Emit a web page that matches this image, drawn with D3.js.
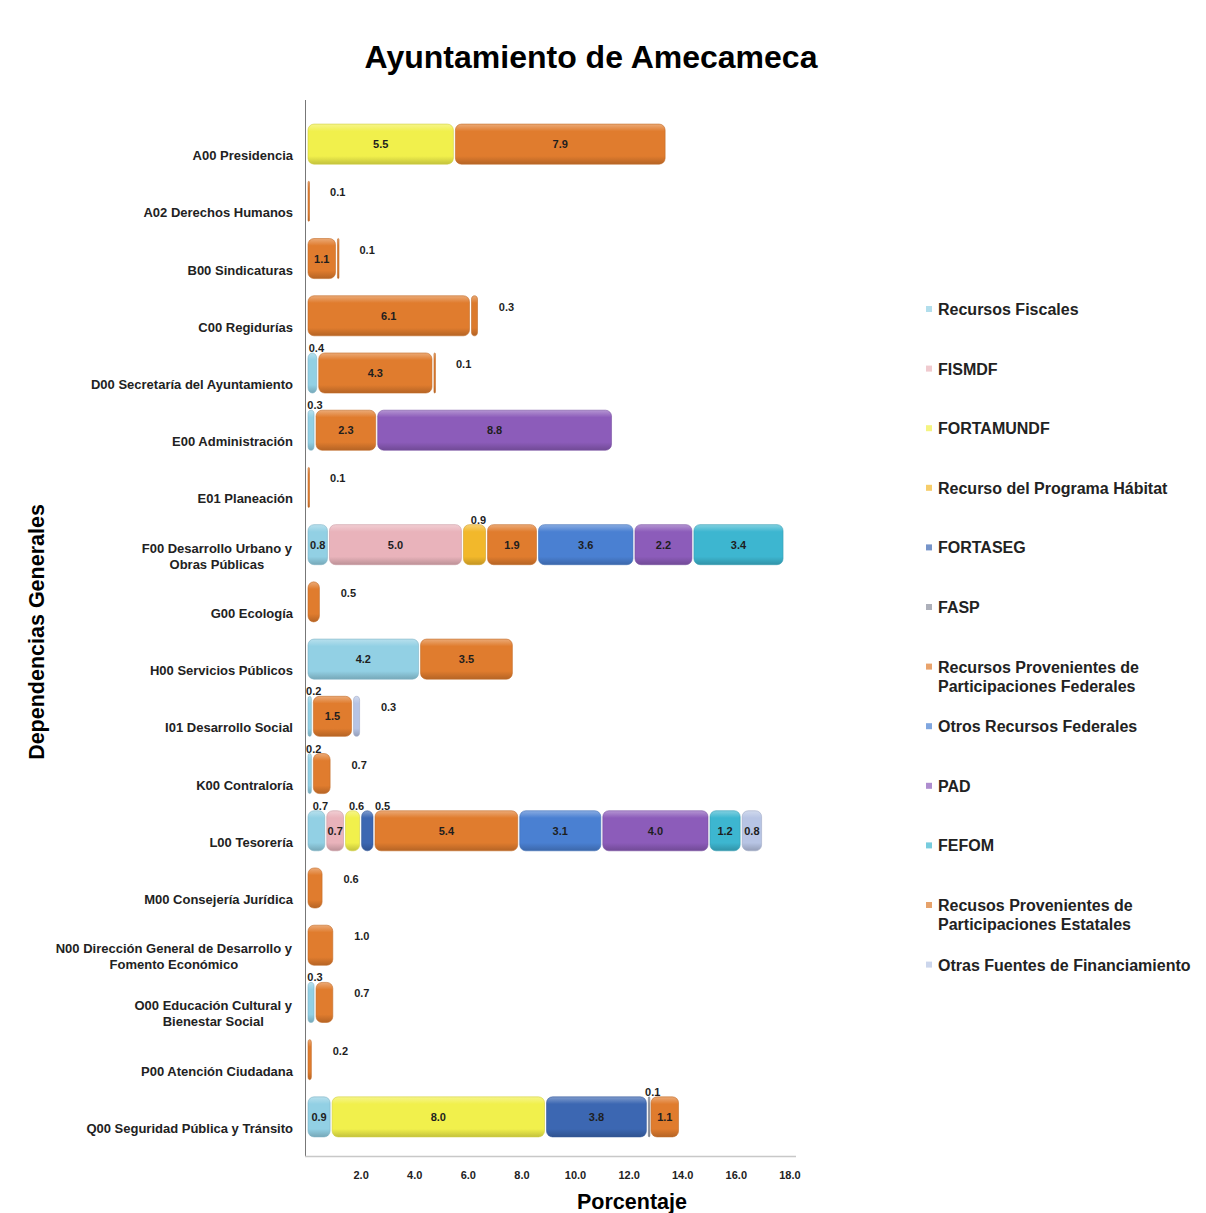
<!DOCTYPE html>
<html>
<head>
<meta charset="utf-8">
<script src="https://cdn.jsdelivr.net/npm/d3@7"></script>
<style>
  body { margin: 0; background: #fff; }
  text { font-family: "Liberation Sans", Arial, sans-serif; }
</style>
</head>
<body>
<div id="container"></div>
<script>
// chart data (percent of budget per dependency and funding source)
const categories = [
  "A00 Presidencia", "A02 Derechos Humanos", "B00 Sindicaturas", "C00 Regidurías",
  "D00 Secretaría del Ayuntamiento", "E00 Administración", "E01 Planeación",
  "F00 Desarrollo Urbano y|Obras Públicas", "G00 Ecología", "H00 Servicios Públicos",
  "I01 Desarrollo Social", "K00 Contraloría", "L00 Tesorería", "M00 Consejería Jurídica",
  "N00 Dirección General de Desarrollo y|Fomento Económico",
  "O00 Educación Cultural y|Bienestar Social", "P00 Atención Ciudadana",
  "Q00 Seguridad Pública y Tránsito"
];

const seriesNames = [
  "Recursos Fiscales", "FISMDF", "FORTAMUNDF", "Recurso del Programa Hábitat",
  "FORTASEG", "FASP", "Recursos Provenientes de|Participaciones Federales",
  "Otros Recursos Federales", "PAD", "FEFOM",
  "Recusos Provenientes de|Participaciones Estatales", "Otras Fuentes de Financiamiento"
];

//                      A00  A02  B00  C00  D00  E00  E01  F00  G00  H00  I01  K00  L00  M00  N00  O00  P00  Q00
const recursosFiscales = [0,   0,   0,   0, 0.4, 0.3,   0, 0.8,   0, 4.2, 0.2, 0.2, 0.7,   0,   0, 0.3,   0, 0.9];
const fismdf           = [0,   0,   0,   0,   0,   0,   0, 5.0,   0,   0,   0,   0, 0.7,   0,   0,   0,   0,   0];
const fortamundf       = [5.5, 0,   0,   0,   0,   0,   0,   0,   0,   0,   0,   0, 0.6,   0,   0,   0,   0, 8.0];
const habitat          = [0,   0,   0,   0,   0,   0,   0, 0.9,   0,   0,   0,   0,   0,   0,   0,   0,   0,   0];
const fortaseg         = [0,   0,   0,   0,   0,   0,   0,   0,   0,   0,   0,   0, 0.5,   0,   0,   0,   0, 3.8];
const fasp             = [0,   0,   0,   0,   0,   0,   0,   0,   0,   0,   0,   0,   0,   0,   0,   0,   0, 0.1];
const partFederales    = [7.9, 0.1, 1.1, 6.1, 4.3, 2.3, 0.1, 1.9, 0.5, 3.5, 1.5, 0.7, 5.4, 0.6, 1.0, 0.7, 0.2, 1.1];
const otrosFederales   = [0,   0,   0,   0,   0,   0,   0, 3.6,   0,   0,   0,   0, 3.1,   0,   0,   0,   0,   0];
const pad              = [0,   0,   0,   0,   0, 8.8,   0, 2.2,   0,   0,   0,   0, 4.0,   0,   0,   0,   0,   0];
const fefom            = [0,   0,   0,   0,   0,   0,   0, 3.4,   0,   0,   0,   0, 1.2,   0,   0,   0,   0,   0];
const partEstatales    = [0,   0, 0.1, 0.3, 0.1,   0,   0,   0,   0,   0,   0,   0,   0,   0,   0,   0,   0,   0];
const otrasFuentes     = [0,   0,   0,   0,   0,   0,   0,   0,   0,   0, 0.3,   0, 0.8,   0,   0,   0,   0,   0];

const xTicks = [2, 4, 6, 8, 10, 12, 14, 16, 18];

const seriesValues = [recursosFiscales, fismdf, fortamundf, habitat, fortaseg, fasp,
  partFederales, otrosFederales, pad, fefom, partEstatales, otrasFuentes];

const colors = ["#92d0e4", "#e9b3bb", "#f1f04c", "#f2b82b", "#3c67b2", "#8a8f9c",
  "#e07c2e", "#4a80d2", "#8c5cba", "#3db6d0", "#dc7a2c", "#b7c4e4"];

const width = 1206, height = 1213;
const svg = d3.select("#container").append("svg")
  .attr("width", width).attr("height", height);

const x = d3.scaleLinear().domain([0, 18]).range([307, 789.4]);
const y = d3.scaleBand().domain(d3.range(categories.length)).range([115.5, 1145.5]).paddingInner(0.3).paddingOuter(0.15);

// gradients for the rounded 3D look
const defs = svg.append("defs");
colors.forEach((c, i) => {
  const g = defs.append("linearGradient").attr("id", "g" + i)
    .attr("x1", 0).attr("y1", 0).attr("x2", 0).attr("y2", 1);
  g.append("stop").attr("offset", "0%").attr("stop-color", d3.interpolateRgb(c, "#fff")(0.35));
  g.append("stop").attr("offset", "18%").attr("stop-color", c);
  g.append("stop").attr("offset", "80%").attr("stop-color", c);
  g.append("stop").attr("offset", "100%").attr("stop-color", d3.color(c).darker(0.6));
});

// title
svg.append("text").attr("x", 591).attr("y", 68).attr("text-anchor", "middle")
  .style("font-size", "32px").style("font-weight", "bold").text("Ayuntamiento de Amecameca");

// stack rows
const rows = categories.map((c, i) => {
  let acc = 0;
  const segs = [];
  seriesValues.forEach((vals, s) => {
    const v = vals[i];
    if (v > 0) { segs.push({ row: i, s, v, x0: acc, x1: acc + v }); acc += v; }
  });
  return segs;
});

const segData = rows.flatMap(r => r.map((d, k) => ({ ...d, last: k === r.length - 1, n: r.length })));

svg.append("g").selectAll("rect").data(segData).join("rect")
  .attr("x", d => x(d.x0) + 1)
  .attr("y", d => y(d.row))
  .attr("width", d => Math.max(1.5, x(d.x1) - x(d.x0) - 2))
  .attr("height", y.bandwidth())
  .attr("rx", d => Math.min(6, (x(d.x1) - x(d.x0)) / 2))
  .attr("fill", d => `url(#g${d.s})`)
  .attr("stroke", d => d3.color(colors[d.s]).darker(0.4))
  .attr("stroke-width", 0.6);

// where Excel put each data label
function isOutside(d) { return d.last && d.n <= 3 && d.v < 1.05; }
function isAbove(d) {
  if (isOutside(d)) return false;
  if (d.v < 0.65) return true;
  if (d.s === 0 && d.v <= 0.7) return true;
  if (d.s === 3) return true;
  return false;
}

// label positions, nudging labels above the bar so they do not collide
const lastAbove = {};
segData.forEach(d => {
  const c = y(d.row) + y.bandwidth() / 2;
  if (isOutside(d)) { d.lx = x(d.x1) + 28; d.ly = c - 5; }
  else if (isAbove(d)) {
    let lx = (x(d.x0) + x(d.x1)) / 2 + 4;
    if (lastAbove[d.row] !== undefined && lx - lastAbove[d.row] < 26) lx = lastAbove[d.row] + 26;
    lastAbove[d.row] = lx;
    d.lx = lx; d.ly = y(d.row) - 1;
  } else { d.lx = (x(d.x0) + x(d.x1)) / 2; d.ly = c + 4; }
});

svg.append("g").selectAll("text").data(segData).join("text")
  .attr("text-anchor", "middle")
  .style("font-size", "11px").style("font-weight", "bold").attr("fill", "#1e1e1e")
  .attr("x", d => d.lx)
  .attr("y", d => d.ly)
  .text(d => d.v.toFixed(1));

// y axis line and category labels
svg.append("line").attr("x1", 305.5).attr("x2", 305.5).attr("y1", 100).attr("y2", 1157)
  .attr("stroke", "#777").attr("stroke-width", 1);

const catG = svg.append("g");
categories.forEach((c, i) => {
  const lines = c.split("|");
  const cy = y(i) + y.bandwidth() / 2;
  if (lines.length === 1) {
    catG.append("text").attr("x", 293).attr("y", cy + 16).attr("text-anchor", "end")
      .style("font-size", "13px").style("font-weight", "bold").attr("fill", "#222").text(c);
  } else {
    const t1 = catG.append("text").attr("x", 292).attr("y", cy + 8).attr("text-anchor", "end")
      .style("font-size", "13px").style("font-weight", "bold").attr("fill", "#222").text(lines[0]);
    const w = t1.node().getComputedTextLength();
    catG.append("text").attr("x", 292 - w / 2).attr("y", cy + 24).attr("text-anchor", "middle")
      .style("font-size", "13px").style("font-weight", "bold").attr("fill", "#222").text(lines[1]);
  }
});

// x axis
svg.append("line").attr("x1", 305).attr("x2", 796).attr("y1", 1156.5).attr("y2", 1156.5)
  .attr("stroke", "#c8c8c8").attr("stroke-width", 1.5);
const xAxis = svg.append("g").attr("transform", "translate(0,1168)")
  .call(d3.axisBottom(x).tickValues(xTicks).tickFormat(d3.format(".1f")).tickSize(0));
xAxis.select(".domain").remove();
xAxis.selectAll("text").style("font-size", "11px").style("font-weight", "bold")
  .style("font-family", "'Liberation Sans', Arial, sans-serif").attr("fill", "#222");

svg.append("text").attr("x", 632).attr("y", 1209).attr("text-anchor", "middle")
  .style("font-size", "21.5px").style("font-weight", "bold").text("Porcentaje");
svg.append("text").attr("transform", "translate(44,632) rotate(-90)").attr("text-anchor", "middle")
  .style("font-size", "21.5px").style("font-weight", "bold").text("Dependencias Generales");

// legend
const legend = svg.append("g");
seriesNames.forEach((name, i) => {
  const ly = 309 + i * 59.6;
  legend.append("rect").attr("x", 926).attr("y", ly - 3).attr("width", 6).attr("height", 6)
    .attr("fill", colors[i]).attr("opacity", 0.7);
  name.split("|").forEach((line, k) => {
    legend.append("text").attr("x", 938).attr("y", ly + 6 + k * 19)
      .style("font-size", "16px").style("font-weight", "bold").attr("fill", "#222").text(line);
  });
});
</script>
</body>
</html>
